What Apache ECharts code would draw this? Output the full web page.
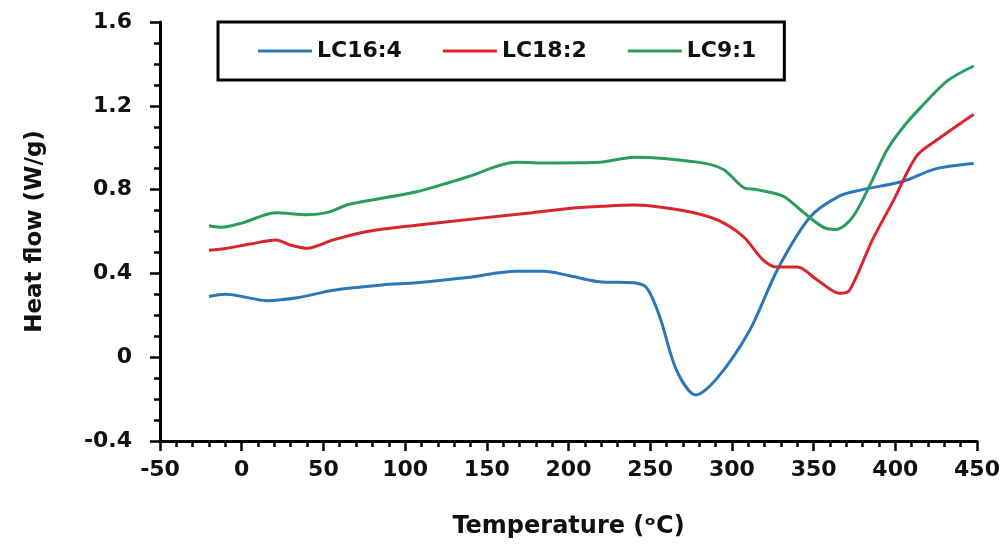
<!DOCTYPE html>
<html>
<head>
<meta charset="utf-8">
<script src="https://cdn.jsdelivr.net/npm/echarts@6/dist/echarts.min.js"></script>
<style>
  html, body { margin: 0; padding: 0; background: #fff; }
  #chart { width: 1007px; height: 553px; }
</style>
</head>
<body>
<div id="chart"></div>
<script>
// temperature (°C) / heat flow (W/g)
var lc164T = [-20, -10, 0, 15, 35, 56, 86, 107, 138, 168, 185, 200, 219, 240, 248, 256, 266, 278, 291, 311, 328, 348, 366, 380, 405, 425, 448]
var lc164V = [0.29, 0.30, 0.29, 0.27, 0.285, 0.32, 0.345, 0.355, 0.38, 0.41, 0.41, 0.39, 0.36, 0.355, 0.33, 0.19, -0.06, -0.18, -0.10, 0.13, 0.42, 0.67, 0.77, 0.80, 0.84, 0.90, 0.925]

var lc182T = [-20, -9, 5, 21, 30, 40, 56, 77, 107, 148, 178, 200, 220, 240, 270, 291, 307, 319, 328, 340, 352, 366, 372, 386, 399, 413, 426, 448]
var lc182V = [0.51, 0.52, 0.54, 0.56, 0.535, 0.52, 0.56, 0.60, 0.63, 0.665, 0.69, 0.71, 0.72, 0.727, 0.70, 0.655, 0.575, 0.465, 0.43, 0.43, 0.37, 0.305, 0.32, 0.56, 0.75, 0.96, 1.04, 1.16]

var lc91T = [-20, -13, 0, 21, 40, 52, 66, 107, 138, 168, 189, 219, 240, 280, 295, 307, 315, 331, 344, 356, 364, 374, 385, 395, 405, 416, 432, 448]
var lc91V = [0.627, 0.62, 0.64, 0.69, 0.68, 0.69, 0.73, 0.79, 0.86, 0.93, 0.927, 0.93, 0.955, 0.93, 0.895, 0.81, 0.80, 0.77, 0.69, 0.62, 0.61, 0.67, 0.83, 0.99, 1.10, 1.196, 1.32, 1.39]

var seriesNames = ['LC16:4', 'LC18:2', 'LC9:1']
var seriesColors = ['#2b78b8', '#d9262c', '#2a9d5c']

function pairs(t, v) {
  return t.map(function (x, i) { return [x, v[i]] })
}

var font = 'DejaVu Sans'
var chart = echarts.init(document.getElementById('chart'))

function makeLine(name, data, color) {
  return {
    name: name,
    type: 'line',
    data: data,
    smooth: 0.3,
    symbol: 'none',
    lineStyle: { color: color, width: 3 },
    itemStyle: { color: color }
  }
}

chart.setOption({
  animation: false,
  backgroundColor: '#fff',
  grid: {
    left: 160,
    right: 30,
    top: 22,
    bottom: 112
  },
  legend: {
    data: seriesNames,
    left: 218,
    top: 22,
    padding: [18, 28, 18, 40],
    itemGap: 41,
    itemWidth: 54,
    itemHeight: 3,
    icon: 'rect',
    borderColor: '#000',
    borderWidth: 3,
    textStyle: {
      fontFamily: font,
      fontWeight: 'bold',
      fontSize: 22,
      color: '#111'
    }
  },
  xAxis: {
    type: 'value',
    min: -50,
    max: 450,
    interval: 50,
    name: 'Temperature (ᵒC)',
    nameLocation: 'middle',
    nameGap: 74,
    nameTextStyle: {
      fontFamily: font,
      fontWeight: 'bold',
      fontSize: 24,
      color: '#111'
    },
    splitLine: { show: false },
    axisLine: { onZero: false, lineStyle: { color: '#000', width: 3 } },
    axisTick: { length: 10, lineStyle: { color: '#000', width: 2.5 } },
    minorTick: { show: true, splitNumber: 5, length: 6, lineStyle: { color: '#000', width: 2.5 } },
    axisLabel: {
      margin: 18,
      fontFamily: font,
      fontWeight: 'bold',
      fontSize: 22,
      color: '#111'
    }
  },
  yAxis: {
    type: 'value',
    min: -0.4,
    max: 1.6,
    interval: 0.4,
    name: 'Heat flow (W/g)',
    nameLocation: 'middle',
    nameRotate: 90,
    nameGap: 113,
    nameTextStyle: {
      fontFamily: font,
      fontWeight: 'bold',
      fontSize: 23,
      color: '#111'
    },
    splitLine: { show: false },
    axisLine: { show: true, onZero: false, lineStyle: { color: '#000', width: 3 } },
    axisTick: { show: true, length: 10, lineStyle: { color: '#000', width: 2.5 } },
    minorTick: { show: true, splitNumber: 4, length: 6, lineStyle: { color: '#000', width: 2.5 } },
    axisLabel: {
      margin: 28,
      fontFamily: font,
      fontWeight: 'bold',
      fontSize: 22,
      color: '#111',
      formatter: function (v) { return String(Math.round(v * 10) / 10) }
    }
  },
  series: [
    makeLine(seriesNames[0], pairs(lc164T, lc164V), seriesColors[0]),
    makeLine(seriesNames[1], pairs(lc182T, lc182V), seriesColors[1]),
    makeLine(seriesNames[2], pairs(lc91T, lc91V), seriesColors[2])
  ]
})
</script>
</body>
</html>
